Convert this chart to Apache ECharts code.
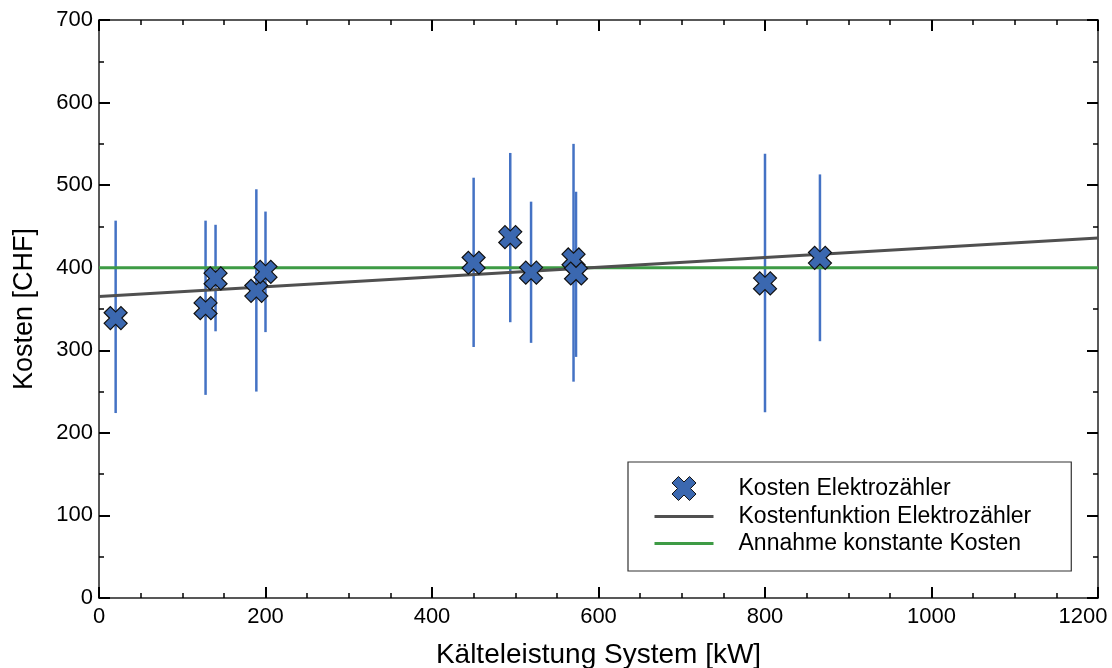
<!DOCTYPE html>
<html>
<head>
<meta charset="utf-8">
<script src="https://cdn.jsdelivr.net/npm/echarts@6/dist/echarts.min.js"></script>
<style>
  html, body { margin: 0; padding: 0; background: #fff; }
  #chart { width: 1112px; height: 668px; }
</style>
</head>
<body>
<div id="chart"></div>
<script>
// Messpunkte: Kälteleistung [kW] und Kosten [CHF]
var pointX = [20, 128, 140, 189, 200, 450, 494, 519, 570, 573, 800, 866];
var pointY = [339, 351, 387, 372, 395, 406, 437, 394, 410, 393, 381, 412];
// Fehlerbalken (unten / oben)
var errLow = [224, 246, 323, 250, 322, 304, 334, 309, 262, 292, 225, 311];
var errHigh = [457, 457, 452, 495, 468, 509, 539, 480, 550, 492, 538, 513];
// Kostenfunktion (Endpunkte) und konstante Kosten
var fitX = [0, 1200];
var fitY = [365, 436];
var constX = [0, 1200];
var constY = [400, 400];

var FONT = "Liberation Sans, Arial, sans-serif";
// X-förmiges Symbol
var crossPath = "path://M0,2.7L2.7,0L5,2.3L7.3,0L10,2.7L7.7,5L10,7.3L7.3,10L5,7.7L2.7,10L0,7.3L2.3,5Z";

var chart = echarts.init(document.getElementById("chart"));

function axisBase(extra) {
  return Object.assign({
    type: "value",
    axisLine: { show: true, onZero: false, lineStyle: { color: "#222", width: 1.5 } },
    axisTick: { show: true, inside: true, length: 11, lineStyle: { color: "#000", width: 2 } },
    splitLine: { show: false }
  }, extra);
}

chart.setOption({
  animation: false,
  grid: { left: 99, right: 14, top: 20, bottom: 70, containLabel: false, outerBoundsMode: "none" },
  xAxis: [
    axisBase({
      min: 0, max: 1200, interval: 200, position: "bottom",
      minorTick: { show: true, splitNumber: 4, length: 5, lineStyle: { color: "#000", width: 1.5 } },
      axisLabel: {
        color: "#000", fontSize: 22, fontFamily: FONT, margin: 8,
        formatter: function (v) { return v === 1200 ? "{m|" + v + "}" : String(v); },
        rich: { m: { color: "#000", fontSize: 22, fontFamily: FONT, padding: [0, 30, 0, 0] } }
      },
      name: "Kälteleistung System [kW]", nameLocation: "middle", nameGap: 43,
      nameTextStyle: { color: "#000", fontSize: 28, fontFamily: FONT }
    }),
    axisBase({
      min: 0, max: 1200, interval: 200, position: "top",
      minorTick: { show: true, splitNumber: 4, length: 5, lineStyle: { color: "#000", width: 1.5 } },
      axisLabel: { show: false }
    })
  ],
  yAxis: [
    axisBase({
      min: 0, max: 700, interval: 100, position: "left",
      minorTick: { show: true, splitNumber: 2, length: 5, lineStyle: { color: "#000", width: 1.5 } },
      axisLabel: { color: "#000", fontSize: 22, fontFamily: FONT, margin: 6 },
      name: "Kosten [CHF]", nameLocation: "middle", nameGap: 61,
      nameTextStyle: { color: "#000", fontSize: 27, fontFamily: FONT }
    }),
    axisBase({
      min: 0, max: 700, interval: 100, position: "right",
      minorTick: { show: true, splitNumber: 2, length: 5, lineStyle: { color: "#000", width: 1.5 } },
      axisLabel: { show: false }
    })
  ],
  legend: {
    orient: "vertical",
    left: 628, top: 462,
    padding: [14, 40, 16, 25],
    itemGap: 4,
    itemWidth: 59, itemHeight: 24,
    borderColor: "#333", borderWidth: 1.2,
    backgroundColor: "#fff",
    textStyle: { color: "#000", fontSize: 23, fontFamily: FONT, padding: [0, 0, 0, 20] },
    data: [
      { name: "Kosten Elektrozähler", icon: crossPath, itemStyle: { borderColor: "#111", borderWidth: 1 } },
      { name: "Kostenfunktion Elektrozähler", itemStyle: { opacity: 0 }, lineStyle: { width: 3 } },
      { name: "Annahme konstante Kosten", itemStyle: { opacity: 0 }, lineStyle: { width: 3 } }
    ]
  },
  series: [
    {
      name: "Fehler",
      type: "custom",
      z: 2,
      data: pointX.map(function (x, i) { return [x, errLow[i], errHigh[i]]; }),
      renderItem: function (params, api) {
        var a = api.coord([api.value(0), api.value(1)]);
        var b = api.coord([api.value(0), api.value(2)]);
        return {
          type: "line",
          shape: { x1: a[0], y1: a[1], x2: b[0], y2: b[1] },
          style: { stroke: "#4472c4", lineWidth: 2.5 }
        };
      }
    },
    {
      name: "Annahme konstante Kosten",
      type: "line",
      z: 3,
      symbol: "none",
      data: constX.map(function (x, i) { return [x, constY[i]]; }),
      lineStyle: { color: "#3e9b45", width: 3 },
      itemStyle: { color: "#3e9b45" }
    },
    {
      name: "Kostenfunktion Elektrozähler",
      type: "line",
      z: 4,
      symbol: "none",
      data: fitX.map(function (x, i) { return [x, fitY[i]]; }),
      lineStyle: { color: "#505050", width: 3 },
      itemStyle: { color: "#505050" }
    },
    {
      name: "Kosten Elektrozähler",
      type: "scatter",
      z: 5,
      symbol: crossPath,
      symbolSize: 23,
      symbolKeepAspect: true,
      data: pointX.map(function (x, i) { return [x, pointY[i]]; }),
      itemStyle: { color: "#3b68b0", borderColor: "#111", borderWidth: 1.2, opacity: 1 }
    }
  ]
});
</script>
</body>
</html>
